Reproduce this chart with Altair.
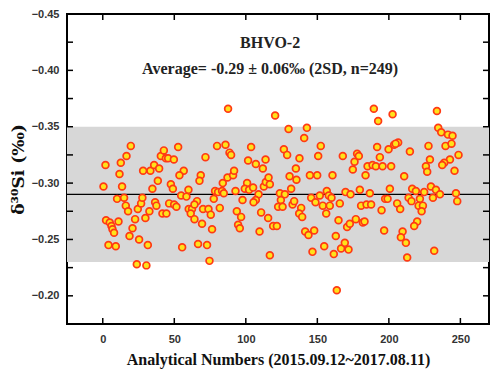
import altair as alt
import pandas as pd

# Analytical number (estimated) and delta30Si values
x_vals = [
    19.6, 16.6, 12.6, 1.9, 11.7, 0.5, 13.5, 10.0, 14.9, 16.1, 17.7, 2.3, 4.9, 11.0, 6.1,
    6.8, 7.9, 4.0, 9.1, 18.7, 20.8, 22.6, 25.4, 31.5, 23.8, 30.5, 24.5, 26.8, 27.7, 32.6,
    29.8, 36.6, 37.5, 34.7, 38.5, 28.2, 33.3, 35.9, 39.4, 40.6, 42.7, 44.1, 45.7, 41.7, 44.5,
    87.6, 52.7, 49.7, 71.8, 79.9, 85.8, 88.6, 89.7, 103.7, 101.6, 107.0, 111.9, 113.8, 56.6, 53.6,
    68.5, 67.6, 47.6, 49.0, 59.9, 54.8, 58.5, 46.4, 49.9, 51.5, 60.1, 62.4, 65.9, 64.1, 61.5,
    64.1, 70.1, 73.9, 75.5, 81.8, 77.6, 69.4, 76.4, 55.5, 66.6, 72.9, 74.6, 78.5, 80.6, 83.4,
    84.6, 83.9, 87.2, 91.1, 91.8, 92.8, 97.7, 93.7, 96.7, 94.6, 95.8, 100.9, 99.3, 102.3, 105.1,
    108.9, 107.0, 105.4, 109.6, 110.7, 112.6, 114.0, 115.9, 115.6, 116.8,
    120.5, 129.9, 142.7, 140.8, 152.4, 150.6, 126.6, 128.9, 137.5, 135.0, 116.8, 130.6, 135.4, 131.7, 144.8,
    149.9, 160.6, 167.8, 177.8, 179.0, 176.0, 174.8, 185.1, 183.7, 123.8, 127.3, 124.5, 122.6, 125.7, 132.7,
    133.8, 138.7, 137.3, 139.4, 119.1, 121.7, 145.7, 148.7, 151.7, 156.6, 158.0, 159.9, 153.8, 158.7, 156.2,
    165.7, 141.5, 143.8, 147.8, 146.6, 154.8, 162.9, 164.8, 161.5, 163.6, 166.6, 169.2, 171.8, 170.8, 172.7,
    176.9, 181.8, 183.0, 169.7, 173.2, 179.7, 180.6, 184.4, 186.7,
    189.5, 192.5, 202.6, 233.6, 234.5, 236.6, 241.3, 244.5, 239.6, 243.8, 248.7, 242.7, 238.7, 237.3, 245.9,
    191.8, 193.7, 199.8, 203.7, 206.5, 204.7, 214.7, 227.7, 228.7, 225.9, 226.8, 188.6, 190.9, 195.6, 201.6,
    210.7, 200.7, 216.3, 218.9, 224.7, 229.4, 232.9, 235.7, 230.8, 221.7, 213.8, 215.8, 246.9, 247.8, 197.4,
    199.1, 187.6, 205.8, 207.9, 220.8, 223.8, 222.9, 194.9, 219.8, 217.7, 196.7, 209.6, 208.4, 211.9, 231.7,
    212.8,
]
y_vals = [
    -0.333, -0.324, -0.318, -0.316, -0.308, -0.297, -0.297, -0.286, -0.287, -0.280, -0.275, -0.267, -0.265, -0.266, -0.262,
    -0.259, -0.256, -0.245, -0.244, -0.253, -0.260, -0.268, -0.250, -0.245, -0.228, -0.227, -0.277, -0.282, -0.287, -0.275,
    -0.269, -0.283, -0.280, -0.295, -0.302, -0.311, -0.311, -0.316, -0.313, -0.324, -0.329, -0.322, -0.322, -0.273, -0.273,
    -0.366, -0.332, -0.321, -0.323, -0.333, -0.334, -0.327, -0.325, -0.332, -0.320, -0.317, -0.313, -0.321, -0.311, -0.307,
    -0.307, -0.302, -0.299, -0.295, -0.294, -0.289, -0.288, -0.282, -0.281, -0.279, -0.277, -0.277, -0.284, -0.281, -0.273,
    -0.268, -0.277, -0.277, -0.272, -0.278, -0.286, -0.264, -0.259, -0.243, -0.246, -0.245, -0.231, -0.293, -0.292, -0.293,
    -0.291, -0.300, -0.305, -0.307, -0.311, -0.293, -0.285, -0.275, -0.270, -0.263, -0.260, -0.300, -0.295, -0.294, -0.296,
    -0.290, -0.285, -0.283, -0.257, -0.274, -0.297, -0.301, -0.305, -0.269, -0.236,
    -0.360, -0.348, -0.349, -0.340, -0.333, -0.324, -0.330, -0.325, -0.322, -0.313, -0.299, -0.306, -0.303, -0.295, -0.307,
    -0.307, -0.307, -0.324, -0.326, -0.324, -0.319, -0.312, -0.315, -0.307, -0.291, -0.290, -0.285, -0.279, -0.279, -0.281,
    -0.284, -0.278, -0.273, -0.270, -0.262, -0.262, -0.287, -0.283, -0.289, -0.293, -0.289, -0.287, -0.280, -0.280, -0.273,
    -0.282, -0.257, -0.254, -0.258, -0.239, -0.244, -0.253, -0.267, -0.237, -0.205, -0.242, -0.247, -0.241, -0.261, -0.264,
    -0.268, -0.265, -0.266, -0.292, -0.290, -0.294, -0.280, -0.281, -0.291,
    -0.366, -0.355, -0.361, -0.364, -0.349, -0.345, -0.343, -0.342, -0.333, -0.335, -0.325, -0.321, -0.318, -0.316, -0.311,
    -0.332, -0.323, -0.330, -0.334, -0.336, -0.335, -0.328, -0.333, -0.321, -0.315, -0.310, -0.316, -0.315, -0.315, -0.315,
    -0.306, -0.295, -0.295, -0.293, -0.292, -0.297, -0.294, -0.290, -0.287, -0.286, -0.287, -0.284, -0.291, -0.284, -0.286,
    -0.286, -0.281, -0.282, -0.277, -0.280, -0.280, -0.275, -0.276, -0.266, -0.262, -0.258, -0.257, -0.252, -0.247, -0.240,
    -0.234,
]

x_ticks = [0, 50, 100, 150, 200, 250]
y_major = [-0.45, -0.40, -0.35, -0.30, -0.25, -0.20]
y_all_ticks = [-0.45, -0.425, -0.40, -0.375, -0.35, -0.325, -0.30, -0.275, -0.25, -0.225, -0.20, -0.175]
band_lo, band_hi = -0.35, -0.23
mean_val = -0.29
title_text = "BHVO-2"
avg_text = "Average= -0.29 \u00b1 0.06\u2030 (2SD, n=249)"

W, H = 422, 310
TL = 6  # tick length

pts = pd.DataFrame({"n": x_vals, "d": y_vals})
xs = alt.Scale(domain=[-25, 270], nice=False, zero=False)
ys = alt.Scale(domain=[-0.45, -0.175], nice=False, zero=False, reverse=True)

lab_font = "Liberation Sans"
ser_font = "Liberation Serif"

X = alt.X("n:Q", scale=xs, axis=alt.Axis(
    values=x_ticks, ticks=False, grid=False, domain=False, labelPadding=9,
    labelFont=lab_font, labelFontWeight="bold", labelFontSize=11, labelColor="#333",
    title="Analytical Numbers (2015.09.12~2017.08.11)", titleFont=ser_font,
    titleFontSize=16, titleFontWeight="bold", titlePadding=7, titleColor="#111"))
Y = alt.Y("d:Q", scale=ys, axis=alt.Axis(
    values=y_major, ticks=False, grid=False, domain=False, labelPadding=8, format=".2f",
    labelFont=lab_font, labelFontWeight="bold", labelFontSize=11, labelColor="#333",
    title="\u03b4\u00b3\u2070Si (\u2030)", titleFont="DejaVu Serif", titleFontSize=17,
    titleFontWeight="bold", titlePadding=4, titleColor="#111"))

band = alt.Chart(pd.DataFrame({"lo": [band_lo], "hi": [band_hi]})).mark_rect(
    color="#d7d7d7").encode(y=alt.Y("lo:Q", scale=ys), y2="hi:Q")

mline = alt.Chart(pd.DataFrame({"m": [mean_val]})).mark_rule(
    color="#000000", strokeWidth=1.3).encode(y=alt.Y("m:Q", scale=ys))

points = alt.Chart(pts).mark_point(
    filled=True, shape="circle", size=46, fill="#ffe21a", stroke="#ff3a14",
    strokeWidth=1.7, opacity=1).encode(x=X, y=Y)

xt = pd.DataFrame({"t": x_ticks})
yt = pd.DataFrame({"t": y_all_ticks})
xb = alt.Chart(xt).mark_rule(color="black", strokeWidth=1.5).encode(
    x=alt.X("t:Q", scale=xs), y=alt.value(H), y2=alt.value(H - TL))
xtp = alt.Chart(xt).mark_rule(color="black", strokeWidth=1.5).encode(
    x=alt.X("t:Q", scale=xs), y=alt.value(0), y2=alt.value(TL))
yl = alt.Chart(yt).mark_rule(color="black", strokeWidth=1.5).encode(
    y=alt.Y("t:Q", scale=ys), x=alt.value(0), x2=alt.value(TL))
yr = alt.Chart(yt).mark_rule(color="black", strokeWidth=1.5).encode(
    y=alt.Y("t:Q", scale=ys), x=alt.value(W), x2=alt.value(W - TL))

txt = pd.DataFrame({"tx": [117, 117], "ty": [-0.424, -0.401], "s": [title_text, avg_text]})
texts = alt.Chart(txt).mark_text(
    font=ser_font, fontWeight="bold", fontSize=16, color="#222", align="center",
    baseline="middle").encode(x=alt.X("tx:Q", scale=xs), y=alt.Y("ty:Q", scale=ys), text="s:N")

chart = alt.layer(band, mline, points, xb, xtp, yl, yr, texts).properties(
    width=W, height=H,
    autosize=alt.AutoSizeParams(type="none"),
    padding={"left": 59, "top": 6, "right": 2, "bottom": 55},
).configure_view(stroke="black", strokeWidth=2).configure_axis(labelFlush=False)

chart.save("out.html", embed_options={"renderer": "svg", "actions": False})
